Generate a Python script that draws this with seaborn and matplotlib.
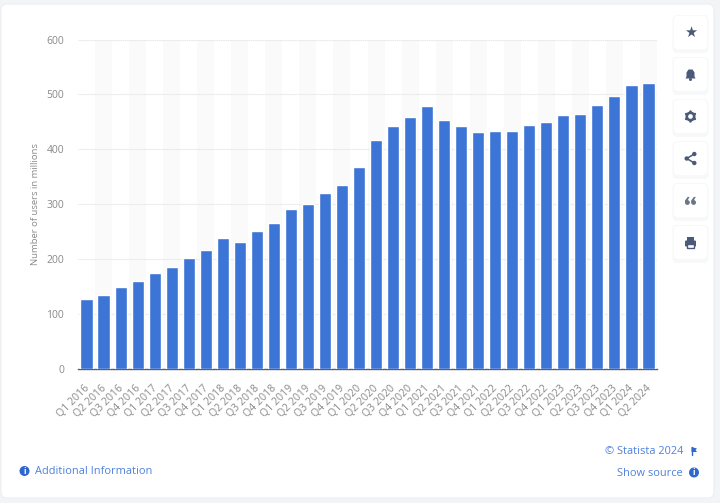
import matplotlib
matplotlib.use("Agg")
import matplotlib.pyplot as plt
from matplotlib.patches import FancyBboxPatch, Circle, Rectangle, Polygon
from matplotlib.transforms import ScaledTranslation
import seaborn as sns
import pandas as pd

quarters = ["Q1 2016","Q2 2016","Q3 2016","Q4 2016","Q1 2017","Q2 2017","Q3 2017","Q4 2017",
            "Q1 2018","Q2 2018","Q3 2018","Q4 2018","Q1 2019","Q2 2019","Q3 2019","Q4 2019",
            "Q1 2020","Q2 2020","Q3 2020","Q4 2020","Q1 2021","Q2 2021","Q3 2021","Q4 2021",
            "Q1 2022","Q2 2022","Q3 2022","Q4 2022","Q1 2023","Q2 2023","Q3 2023","Q4 2023",
            "Q1 2024","Q2 2024"]
users = [128,135,150,160,175,185,203,217,239,232,252,265,292,300,321,335,
         367,417,442,458,478,453,443,432,433,433,445,449,463,465,481,498,518,521]
y_ticks = [0,100,200,300,400,500,600]
y_label = "Number of users in millions"

W, H = 720, 503
BLUE = "#3d75d6"
LINK = "#4f80dc"
DARK = "#4a5a78"
GREY = "#8a8a8a"

sns.set_theme(style="white")
plt.rcParams["font.family"] = ["Open Sans", "DejaVu Sans"]
fig = plt.figure(figsize=(W/100, H/100), dpi=100, facecolor="#f3f4f6")

# page layer in pixel coordinates
bg = fig.add_axes([0, 0, 1, 1], zorder=0)
bg.set_xlim(0, W); bg.set_ylim(H, 0); bg.axis("off")
bg.add_patch(FancyBboxPatch((1, 4), 713, 494, boxstyle="round,pad=0,rounding_size=6",
                            fc="white", ec="#eceef1", lw=0.8))

# chart
left, right, top, bottom = 78, 657, 39.5, 369
ax = fig.add_axes([left/W, 1-bottom/H, (right-left)/W, (bottom-top)/H], zorder=1)
ax.patch.set_alpha(0)
df = pd.DataFrame({"quarter": quarters, "users": users})
sns.barplot(data=df, x="quarter", y="users", color=BLUE, saturation=1, width=0.71, ax=ax, zorder=3)
for i in range(1, len(quarters), 2):
    ax.axvspan(i-0.5, i+0.5, color="#fafafa", lw=0, zorder=0)
ax.set_xlim(-0.5, len(quarters)-0.5)
ax.set_ylim(0, 600)
ax.set_yticks(y_ticks)
ax.grid(axis="y", color="#e4e4e4", lw=0.8, ls=(0, (1, 0.6)), zorder=1)
ax.grid(axis="x", visible=False)
ax.set_axisbelow(True)
for s in ["top", "left", "right"]:
    ax.spines[s].set_visible(False)
ax.spines["bottom"].set_color("#56606e")
ax.spines["bottom"].set_linewidth(1.0)
ax.tick_params(axis="y", length=0, pad=10, labelsize=7.5, labelcolor=GREY)
ax.tick_params(axis="x", length=0, pad=10, labelsize=7.6, labelcolor=GREY)
plt.setp(ax.get_xticklabels(), rotation=45, ha="right", rotation_mode="anchor")
shift = ScaledTranslation(-3/100, 0, fig.dpi_scale_trans)
for lab in ax.get_xticklabels():
    lab.set_transform(lab.get_transform() + shift)
ax.set_xlabel("")
ax.set_ylabel(y_label, fontsize=6.8, color=GREY, labelpad=0)
ax.yaxis.set_label_coords((40-left)/(right-left), 0.5)

# overlay: buttons, links
ov = fig.add_axes([0, 0, 1, 1], zorder=2)
ov.set_xlim(0, W); ov.set_ylim(H, 0); ov.axis("off"); ov.patch.set_alpha(0)

centers = [32.5, 74.5, 116.5, 158.5, 200.5, 242.5]
cx = 690.5
for cy in centers:
    ov.add_patch(FancyBboxPatch((cx-15.5, cy-15), 31, 33, boxstyle="round,pad=2.5,rounding_size=5",
                                fc="#eef0f3", ec="none", alpha=0.45))
    ov.add_patch(FancyBboxPatch((cx-15.5, cy-15.5), 31, 31, boxstyle="round,pad=1,rounding_size=4",
                                fc="white", ec="none"))

# star
ov.text(cx, centers[0]+0.3, "★", ha="center", va="center", fontsize=10.5, color=DARK, family="DejaVu Sans")
# bell
c = centers[1]
ov.add_patch(Polygon([(cx-5, c+4), (cx-4, c+2), (cx-4, c-2), (cx-2, c-5), (cx+2, c-5),
                      (cx+4, c-2), (cx+4, c+2), (cx+5, c+4)], fc=DARK, ec="none"))
ov.add_patch(Circle((cx, c+5), 1.5, fc=DARK, ec="none"))
# gear
ov.add_patch(Circle((cx, centers[2]), 3.7, fc="none", ec=DARK, lw=1.9))
for dx, dy in [(0, -5.0), (0, 5.0), (-4.4, -2.5), (4.4, -2.5), (-4.4, 2.5), (4.4, 2.5)]:
    ov.add_patch(Circle((cx+dx, centers[2]+dy), 1.2, fc=DARK, ec="none"))
# share
c = centers[3]
pts = [(cx+3.8, c-4.5), (cx-3.8, c), (cx+3.8, c+4.5)]
ov.plot([p[0] for p in pts], [p[1] for p in pts], color=DARK, lw=1.1)
for p in pts:
    ov.add_patch(Circle(p, 2.2, fc=DARK, ec="none"))
# quote
c = centers[4]
for dx in (-3.1, 3.1):
    ov.add_patch(Circle((cx+dx, c+2), 2.4, fc="#6b7688", ec="none"))
    ov.add_patch(Polygon([(cx+dx-2.4, c+2), (cx+dx-2.4, c), (cx+dx+0.3, c-3.6), (cx+dx+2.2, c-3.6),
                          (cx+dx+0.2, c), (cx+dx+2.4, c+2)], fc="#6b7688", ec="none"))
# printer
c = centers[5]
ov.add_patch(Rectangle((cx-3.5, c-6), 7, 4, fc=DARK, ec="none"))
ov.add_patch(FancyBboxPatch((cx-5.5, c-2), 11, 6, boxstyle="round,pad=0,rounding_size=1", fc=DARK, ec="none"))
ov.add_patch(Rectangle((cx-3.5, c+1), 7, 4.5, fc="white", ec=DARK, lw=1))

# links
link_fs = 7.9
ov.add_patch(Circle((24.5, 471), 5, fc="#2f66d0", ec="none"))
ov.text(24.5, 471, "i", ha="center", va="center", fontsize=6, weight="bold", color="white")
ov.text(35, 471, "Additional Information", ha="left", va="center", fontsize=link_fs, color=LINK)
ov.text(683, 451, "© Statista 2024", ha="right", va="center", fontsize=link_fs, color=LINK)
ov.plot([691.5, 691.5], [447, 455], color="#2f66d0", lw=1)
ov.add_patch(Polygon([(691.5, 447), (697, 448.5), (695.5, 450), (697, 452), (691.5, 452)], fc="#2f66d0", ec="none"))
ov.text(683, 473, "Show source", ha="right", va="center", fontsize=link_fs, color=LINK)
ov.add_patch(Circle((694, 472.5), 5, fc="#2f66d0", ec="none"))
ov.text(694, 472.5, "i", ha="center", va="center", fontsize=6, weight="bold", color="white")

fig.savefig("out.png", dpi=100, facecolor=fig.get_facecolor())
